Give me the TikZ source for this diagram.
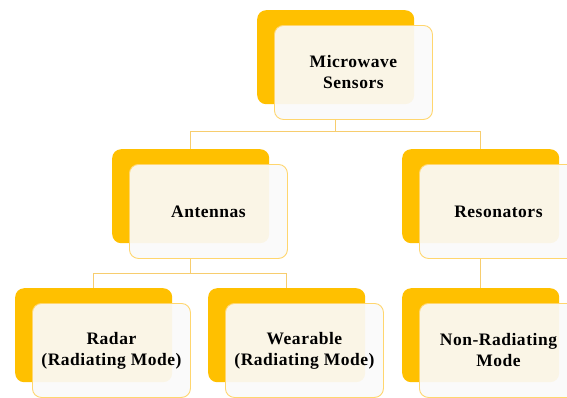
\documentclass[tikz,border=0pt]{standalone}
\usepackage{fontspec}
\setmainfont{Liberation Serif}[LetterSpace=3]
\definecolor{backor}{RGB}{255,192,0}
\definecolor{frontfill}{RGB}{250,250,250}
\definecolor{frontline}{RGB}{255,214,110}
\definecolor{connline}{RGB}{247,205,110}
\tikzset{
  backbox/.style={draw=none, fill=backor, rounded corners=9pt, minimum width=157pt, minimum height=94pt, anchor=north west, inner sep=0pt},
  frontbox/.style={draw=frontline, line width=0.9pt, fill=frontfill, fill opacity=0.92, text opacity=1, rounded corners=9pt, minimum width=158pt, minimum height=94pt, anchor=north west, inner sep=0pt, align=center, font=\fontsize{17.5}{21}\selectfont\bfseries},
  conn/.style={draw=connline, line width=1pt}
}
\begin{document}
\begin{tikzpicture}[x=1pt,y=-1pt]
\clip (0,0) rectangle (567,397);
\fill[white] (0,0) rectangle (567,397);
% back boxes
\node[backbox] (topb) at (257,10) {};
\node[backbox] (antb) at (112,149) {};
\node[backbox] (resb) at (402,149) {};
\node[backbox] (radb) at (15,288) {};
\node[backbox] (weab) at (208,288) {};
\node[backbox] (nonb) at (402,288) {};
% front boxes
\node[frontbox] (topf) at (274,25) {Microwave\\Sensors};
\node[frontbox] (antf) at (129,164) {Antennas};
\node[frontbox] (resf) at (419,164) {Resonators};
\node[frontbox] (radf) at (32,303) {Radar\\(Radiating Mode)};
\node[frontbox] (weaf) at (225,303) {Wearable\\(Radiating Mode)};
\node[frontbox] (nonf) at (419,303) {Non-Radiating\\Mode};
% connectors
\draw[conn] (topb.south |- topf.south) -- ++(0,12) coordinate (j1) -| (antb.north);
\draw[conn] (j1) -| (resb.north);
\draw[conn] (antb.south |- antf.south) -- ++(0,15) coordinate (j2) -| (radb.north);
\draw[conn] (j2) -| (weab.north);
\draw[conn] (resb.south |- resf.south) -- (nonb.north);
\end{tikzpicture}
\end{document}
